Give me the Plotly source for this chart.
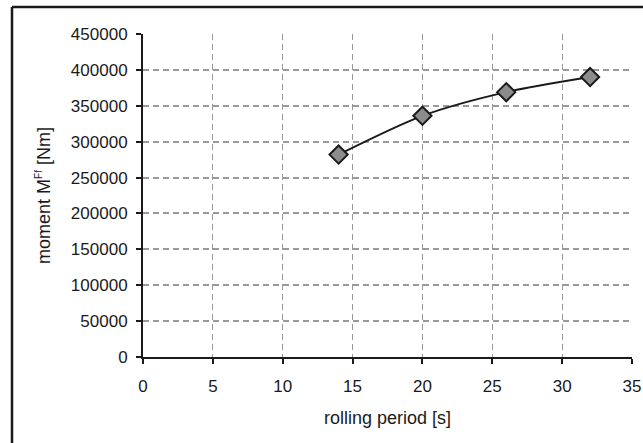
import plotly.graph_objects as go

rolling_period = [14, 20, 26, 32]
moment = [282000, 336000, 369000, 390000]

x_ticks = [0, 5, 10, 15, 20, 25, 30, 35]
y_ticks = [0, 50000, 100000, 150000, 200000, 250000, 300000, 350000, 400000, 450000]

fig = go.Figure()
fig.add_trace(go.Scatter(
    x=rolling_period, y=moment, mode="lines+markers",
    line=dict(color="#1a1a1a", width=2, shape="spline", smoothing=0.8),
    marker=dict(symbol="diamond", size=14, color="#8c8c8c",
                line=dict(color="#1a1a1a", width=2)),
    showlegend=False,
))

family = "Liberation Sans, Arial, sans-serif"
tick_font = dict(family=family, size=17, color="#1a1a1a")
title_font = dict(family=family, size=18, color="#1a1a1a")

L, R, T, B = 143, 11, 34, 86
W, H = 643, 443
pw, ph = W - L - R, H - T - B

def px(xp):
    return (xp - L) / pw

def py(yp):
    return (H - B - yp) / ph

fig.update_layout(
    width=W, height=H,
    margin=dict(l=L, r=R, t=T, b=B, autoexpand=False),
    paper_bgcolor="white", plot_bgcolor="white",
    font=tick_font,
    xaxis=dict(
        range=[0, 35], tickvals=x_ticks, ticktext=[str(v) for v in x_ticks],
        showgrid=True, gridcolor="#999999", gridwidth=1, griddash="6px,4px",
        showline=True, linecolor="#1a1a1a", linewidth=2,
        ticks="outside", ticklen=5, tickwidth=2, tickcolor="#1a1a1a",
        ticklabelstandoff=8, tickfont=tick_font,
        zeroline=False, automargin=False,
        title=dict(text="rolling period [s]", font=title_font, standoff=16),
    ),
    yaxis=dict(
        range=[0, 450000], tickvals=y_ticks, ticktext=[str(v) for v in y_ticks],
        showgrid=True, gridcolor="#999999", gridwidth=2, griddash="6px,4px",
        showline=True, linecolor="#1a1a1a", linewidth=2,
        ticks="outside", ticklen=5, tickwidth=2, tickcolor="#1a1a1a",
        ticklabelstandoff=5, tickfont=tick_font,
        zeroline=False, automargin=False,
        title=dict(text="moment M<sup><span style='font-size:10px'>Ff</span></sup> [Nm]",
                   font=title_font, standoff=16),
    ),
    shapes=[
        dict(type="line", xref="paper", yref="paper",
             x0=px(12), x1=px(12), y0=py(460), y1=py(7),
             line=dict(color="#1a1a1a", width=2.5)),
        dict(type="line", xref="paper", yref="paper",
             x0=px(12), x1=px(660), y0=py(7), y1=py(7),
             line=dict(color="#1a1a1a", width=2.5)),
    ],
)

fig.write_html("out.html")
